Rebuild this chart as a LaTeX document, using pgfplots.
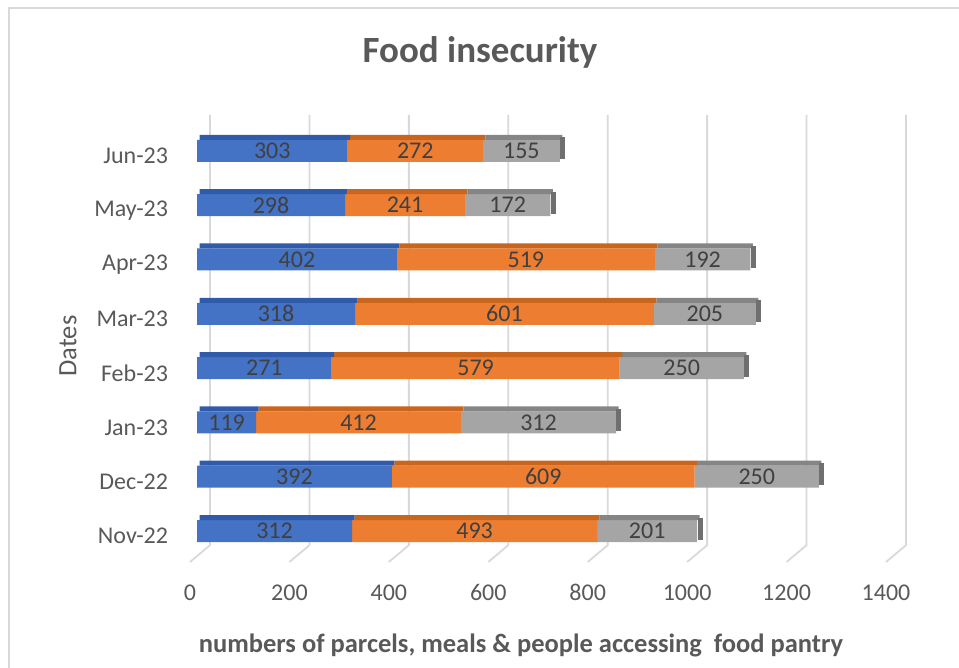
\documentclass[border=0pt]{standalone}
\usepackage{fontspec}
\setmainfont{Carlito}
\usepackage{pgfplots}
\pgfplotsset{compat=1.18}
\usepackage{pgfplotstable}

\definecolor{serA}{HTML}{4472C4}
\definecolor{serB}{HTML}{ED7D31}
\definecolor{serC}{HTML}{A5A5A5}
\definecolor{serAtop}{HTML}{2F5BAA}
\definecolor{serBtop}{HTML}{C9651D}
\definecolor{serCtop}{HTML}{858585}
\definecolor{serCside}{HTML}{6F6F6F}
\definecolor{gridc}{HTML}{D9D9D9}
\definecolor{txt}{HTML}{595959}
\definecolor{lbl}{HTML}{404040}

% parcels (b), meals (o), people (g) per month; y = row index from the bottom
\pgfplotstableread{
y b o g
0 312 493 201
1 392 609 250
2 119 412 312
3 271 579 250
4 318 601 205
5 402 519 192
6 298 241 172
7 303 272 155
}\pantry

\pgfplotsset{
  /pgf/number format/assume math mode=true,
  /pgf/number format/1000 sep={},
  plane/.style={scale only axis, width=348bp, height=223.5bp,
    at={(98.5bp,53bp)}, anchor=south west,
    xmin=0, xmax=1400, ymin=-0.57, ymax=7.66, clip=false},
}

\begin{document}
\begin{tikzpicture}
\useasboundingbox (0,0) rectangle (479.5bp,334bp);
\draw[gridc, line width=1bp] (4.5bp,0) -- (4.5bp,330bp) -- (479.5bp,330bp);

% back wall and floor grid lines
\begin{axis}[plane, hide axis]
\pgfplotsinvokeforeach{0,200,...,1400}{
  \draw[gridc, line width=0.9bp] ([xshift=-3.5bp]axis cs:#1,-0.57)
    -- ([xshift=6.5bp]axis cs:#1,-0.26) -- ([xshift=6.5bp]axis cs:#1,7.66);
}
\end{axis}

% main plane: ticks and the front faces of the bars
\begin{axis}[plane,
  xbar stacked, bar width=11bp,
  axis line style={draw=none}, tick style={draw=none},
  xtick={0,200,...,1400}, ytick={0,...,7},
  yticklabels={Nov-22,Dec-22,Jan-23,Feb-23,Mar-23,Apr-23,May-23,Jun-23},
  ticklabel style={font=\fontsize{12bp}{14bp}\selectfont, text=txt},
  xticklabel style={xshift=-3.5bp, yshift=-7.75bp},
  yticklabel style={xshift=-11bp, yshift=-2.5bp},
]
\addplot[fill=serA, draw=none] table[x=b, y=y]{\pantry};
\addplot[fill=serB, draw=none] table[x=o, y=y]{\pantry};
\addplot[fill=serC, draw=none] table[x=g, y=y]{\pantry};
\end{axis}

% top faces of the bars
\begin{axis}[plane, hide axis, xshift=1.25bp,
  xbar stacked, bar width=2.5bp, bar shift=6.75bp]
\addplot[fill=serAtop, draw=none] table[x=b, y=y]{\pantry};
\addplot[fill=serBtop, draw=none] table[x=o, y=y]{\pantry};
\addplot[fill=serCtop, draw=none] table[x=g, y=y]{\pantry};
\end{axis}

% value labels and the end face of each bar
\begin{axis}[plane, hide axis,
  nodes near coords, point meta=explicit,
  every node near coord/.style={anchor=center, text=lbl,
    font=\fontsize{12bp}{14bp}\selectfont}]
\addplot[draw=none] table[x expr=\thisrow{b}/2, y=y, meta=b]{\pantry};
\addplot[draw=none] table[x expr=\thisrow{b}+\thisrow{o}/2, y=y, meta=o]{\pantry};
\addplot[draw=none] table[x expr=\thisrow{b}+\thisrow{o}+\thisrow{g}/2, y=y, meta=g]{\pantry};
\addplot[draw=none, point meta=x, nodes near coords={},
  every node near coord/.style={anchor=west, inner sep=0pt, fill=serCside,
    minimum width=2.5bp, minimum height=11bp, yshift=1.25bp}]
  table[x expr=\thisrow{b}+\thisrow{o}+\thisrow{g}, y=y]{\pantry};
\end{axis}

\node[font=\bfseries\fontsize{18.5bp}{22bp}\selectfont, text=txt] at (240bp,308bp) {Food insecurity};
\node[rotate=90, font=\fontsize{13.25bp}{16bp}\selectfont, text=txt] at (34bp,161bp) {Dates};
\node[font=\bfseries\fontsize{13.25bp}{16bp}\selectfont, text=txt] at (260.5bp,11.5bp)
  {numbers of parcels, meals \& people accessing\ \ food pantry};
\end{tikzpicture}
\end{document}
